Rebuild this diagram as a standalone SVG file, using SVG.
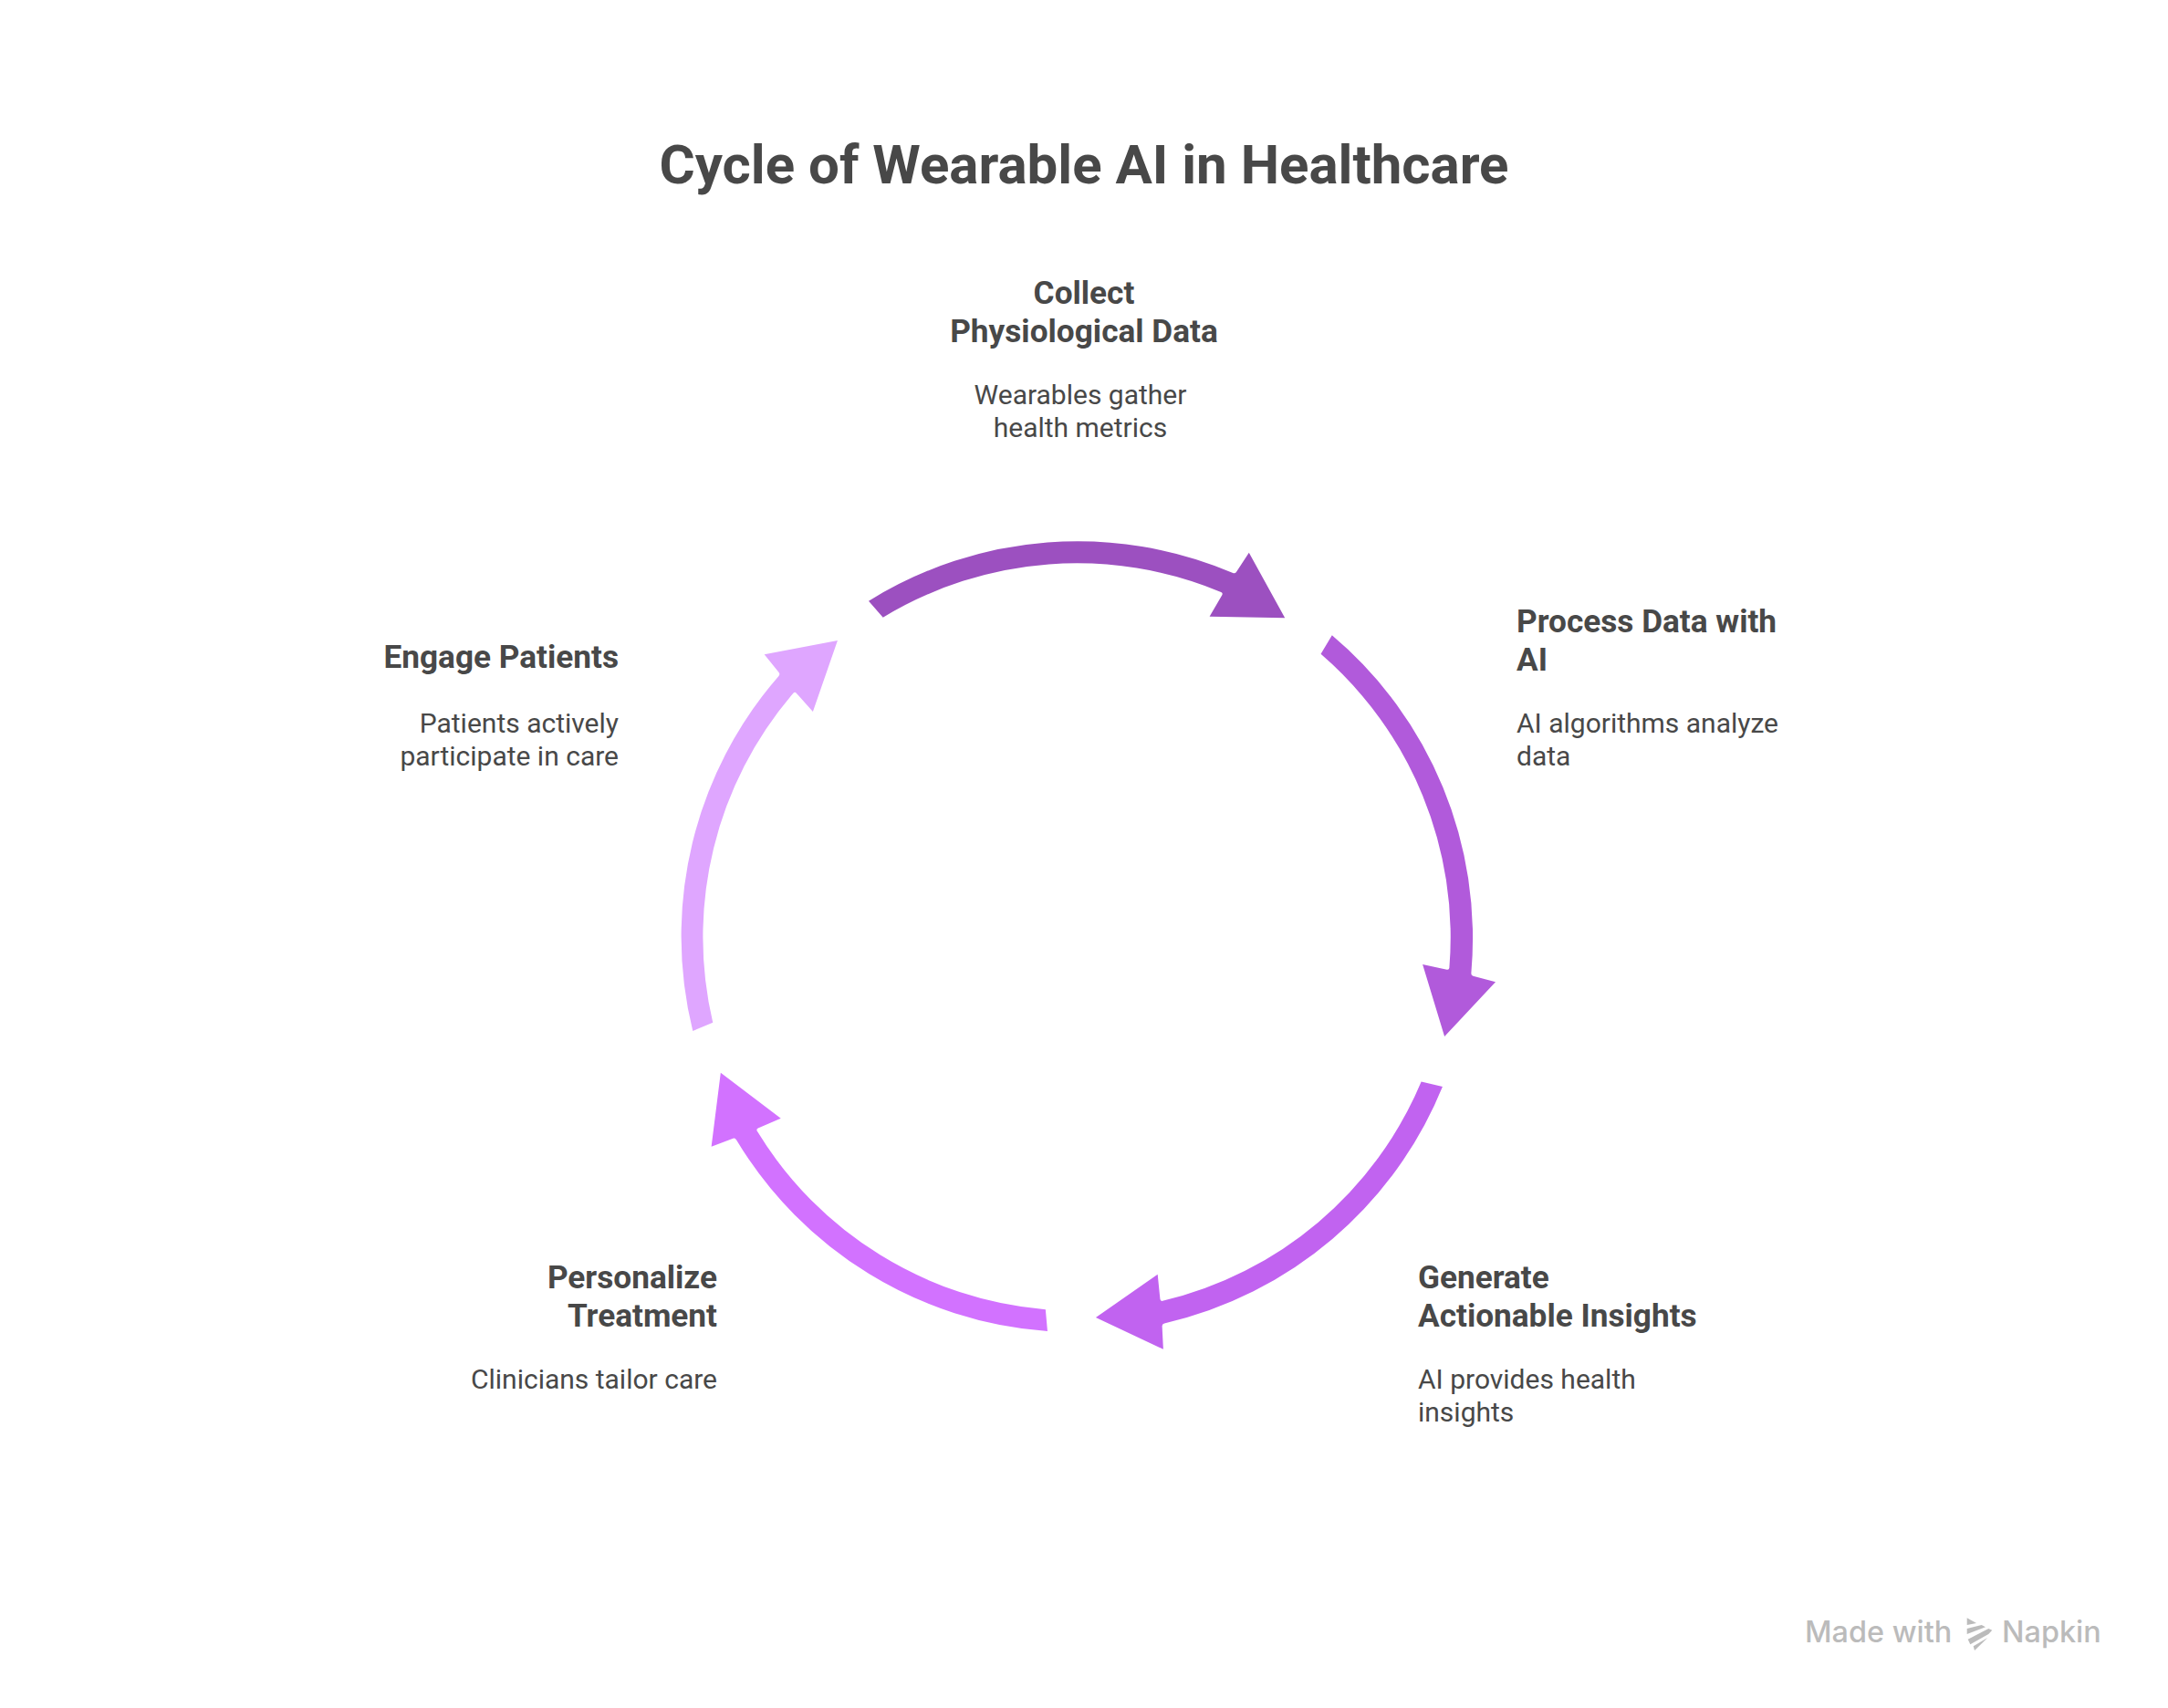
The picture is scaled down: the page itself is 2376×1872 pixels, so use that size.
<svg xmlns="http://www.w3.org/2000/svg" width="2376" height="1872" viewBox="0 0 2376 1872">
<style>
text{font-family:Roboto,"Liberation Sans",sans-serif;fill:#484848}
.t{font-size:60px;font-weight:700}
.h{font-size:35.2px;font-weight:700}
.d{font-size:30px;font-weight:400}
.m{text-anchor:middle}
.e{text-anchor:end}
.w{font-family:Inter,"Open Sans",sans-serif;font-size:32.4px;font-weight:500;fill:#bbbbbb}
.l{fill:#bbbbbb}
</style>
<rect width="2376" height="1872" fill="#ffffff"/>
<text id="title" class="t m" x="1188" y="201">Cycle of Wearable AI in Healthcare</text>
<g id="connectors">
<path id="a1" fill="#9c50c0" d="M952 658.7A434 434 0 0 1 1351.2 628Q1353.5 629 1354.9 627L1368.8 605.7L1408.2 677.3L1325.6 675.7L1339.3 652.2Q1340.5 650 1338.2 649A410 410 0 0 0 967.7 676.7Z"/>
<path id="a2" fill="#b15adb" transform="rotate(72 1180 1027)" d="M952 658.7A434 434 0 0 1 1351.2 628Q1353.5 629 1354.9 627L1368.8 605.7L1408.2 677.3L1325.6 675.7L1339.3 652.2Q1340.5 650 1338.2 649A410 410 0 0 0 967.7 676.7Z"/>
<path id="a3" fill="#c163f0" transform="rotate(144 1180 1027)" d="M952 658.7A434 434 0 0 1 1351.2 628Q1353.5 629 1354.9 627L1368.8 605.7L1408.2 677.3L1325.6 675.7L1339.3 652.2Q1340.5 650 1338.2 649A410 410 0 0 0 967.7 676.7Z"/>
<path id="a4" fill="#d272ff" transform="rotate(216 1180 1027)" d="M952 658.7A434 434 0 0 1 1351.2 628Q1353.5 629 1354.9 627L1368.8 605.7L1408.2 677.3L1325.6 675.7L1339.3 652.2Q1340.5 650 1338.2 649A410 410 0 0 0 967.7 676.7Z"/>
<path id="a5" fill="#dfa6ff" transform="rotate(288 1180 1027)" d="M952 658.7A434 434 0 0 1 1351.2 628Q1353.5 629 1354.9 627L1368.8 605.7L1408.2 677.3L1325.6 675.7L1339.3 652.2Q1340.5 650 1338.2 649A410 410 0 0 0 967.7 676.7Z"/>
</g>
<g id="node-collect">
<text class="h m" x="1188" y="333">Collect</text>
<text class="h m" x="1188" y="375">Physiological Data</text>
<text class="d m" x="1184" y="443">Wearables gather</text>
<text class="d m" x="1184" y="479">health metrics</text>
</g>
<g id="node-process">
<text class="h" x="1662" y="693">Process Data with</text>
<text class="h" x="1662" y="735">AI</text>
<text class="d" x="1662" y="803">AI algorithms analyze</text>
<text class="d" x="1662" y="839">data</text>
</g>
<g id="node-generate">
<text class="h" x="1554" y="1412">Generate</text>
<text class="h" x="1554" y="1454">Actionable Insights</text>
<text class="d" x="1554" y="1522">AI provides health</text>
<text class="d" x="1554" y="1558">insights</text>
</g>
<g id="node-personalize">
<text class="h e" x="786" y="1412">Personalize</text>
<text class="h e" x="786" y="1454">Treatment</text>
<text class="d e" x="786" y="1522">Clinicians tailor care</text>
</g>
<g id="node-engage">
<text class="h e" x="678" y="732">Engage Patients</text>
<text class="d e" x="678" y="803">Patients actively</text>
<text class="d e" x="678" y="839">participate in care</text>
</g>
<g id="watermark">
<text class="w" x="1978" y="1800">Made with</text>
<polygon class="l" points="2155.7,1773.3 2166,1779 2155.7,1781"/>
<polygon class="l" points="2155.7,1785 2171.7,1781 2176,1783.3 2155.7,1791"/>
<polygon class="l" points="2156.7,1796.7 2179.3,1785 2183.3,1786.7 2179.3,1791 2159.3,1802.3"/>
<polygon class="l" points="2162.7,1804.3 2178.3,1795 2164,1809"/>
<text class="w" x="2194" y="1800">Napkin</text>
</g>
</svg>
